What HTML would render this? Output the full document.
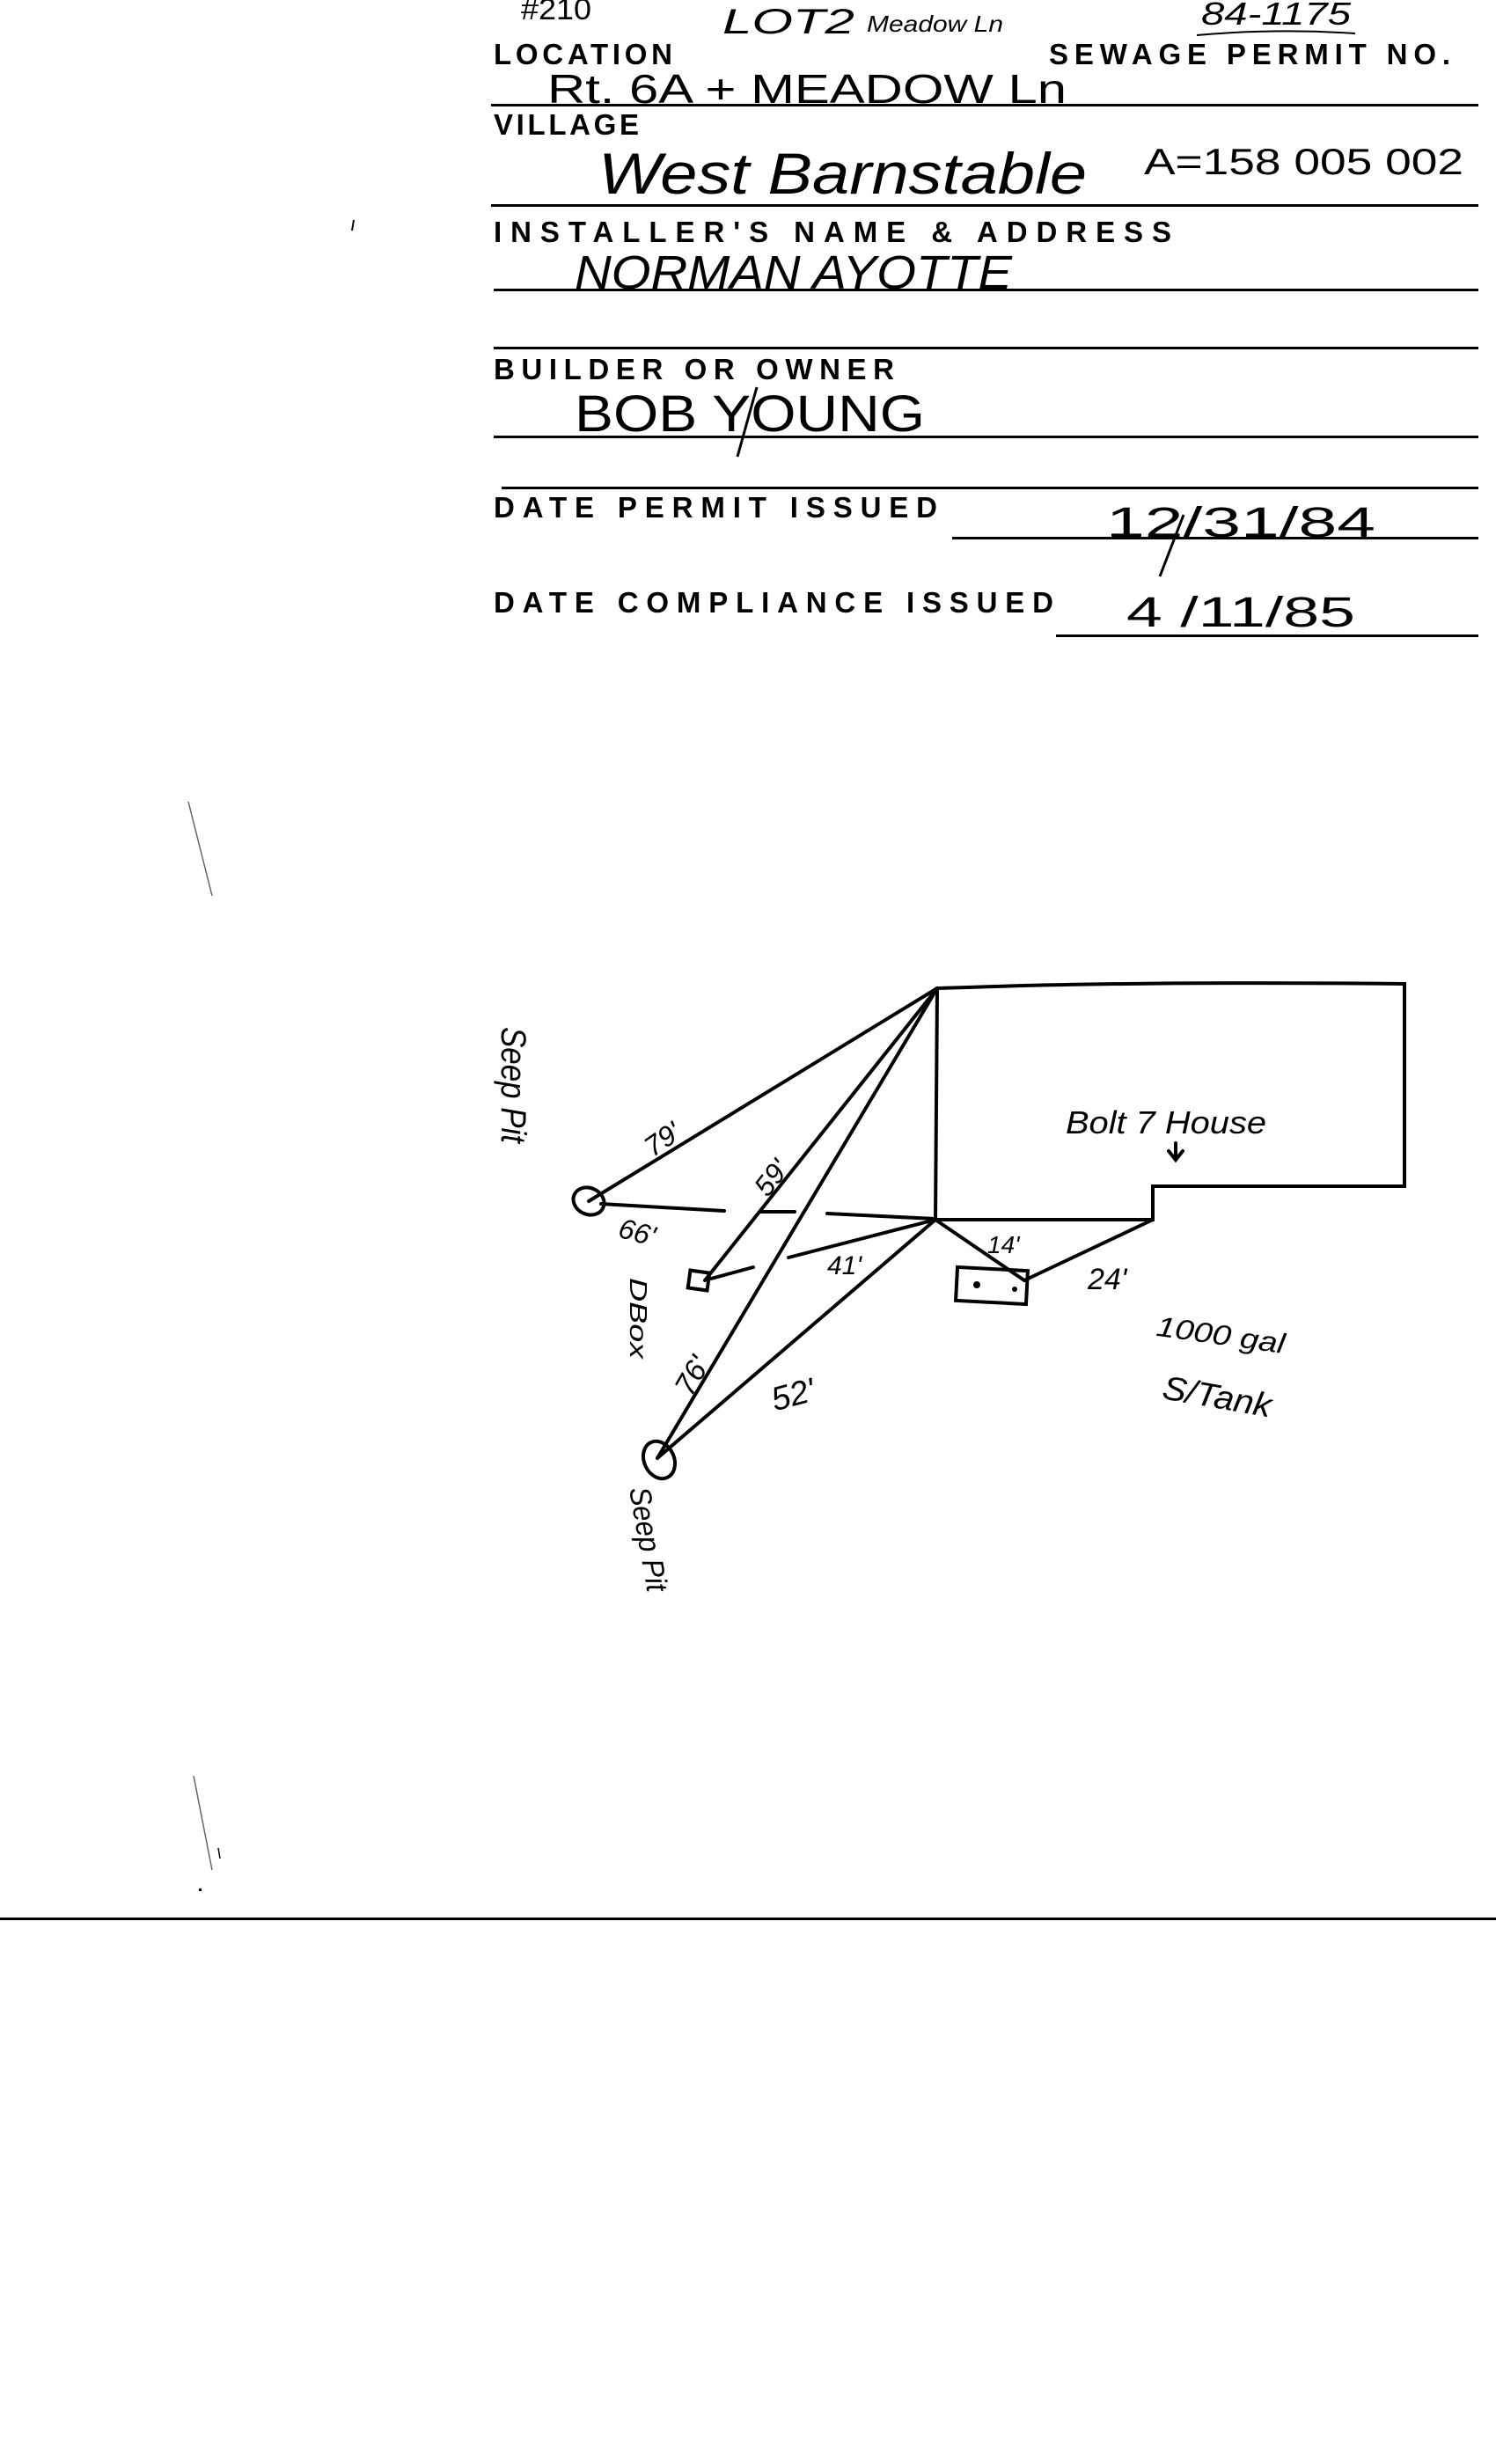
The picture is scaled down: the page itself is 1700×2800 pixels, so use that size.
<!DOCTYPE html>
<html><head><meta charset="utf-8"><style>
html,body{margin:0;padding:0;background:#fff;}
svg{display:block;}
.lb{font-family:"Liberation Sans",sans-serif;font-weight:bold;font-size:33px;fill:#000;}
.hw{font-family:"Liberation Sans",sans-serif;fill:#000;}
</style></head><body>
<svg width="1700" height="2800" viewBox="0 0 1700 2800" xmlns="http://www.w3.org/2000/svg">
<rect width="1700" height="2800" fill="#fff"/>
<text class="hw" x="592" y="22" font-size="34" textLength="80" lengthAdjust="spacingAndGlyphs">#210</text>
<text class="hw" x="821" y="38" font-size="40" font-style="italic" textLength="150" lengthAdjust="spacingAndGlyphs">LOT2</text>
<text class="hw" x="985" y="36" font-size="26" font-style="italic" textLength="155" lengthAdjust="spacingAndGlyphs">Meadow Ln</text>
<text class="hw" x="1365" y="28" font-size="36" font-style="italic" textLength="170" lengthAdjust="spacingAndGlyphs">84-1175</text>
<path d="M1360 40 Q1450 32 1540 38" stroke="#000" stroke-width="2" fill="none"/>
<text class="lb" x="561" y="73" textLength="203" lengthAdjust="spacing">LOCATION</text>
<text class="lb" x="1192" y="73" textLength="456" lengthAdjust="spacing">SEWAGE PERMIT NO.</text>
<text class="hw" x="622" y="117" font-size="46" textLength="590" lengthAdjust="spacingAndGlyphs">Rt. 6A + MEADOW Ln</text>
<rect x="558" y="118" width="1122" height="3" fill="#000"/>
<text class="lb" x="561" y="153" textLength="165" lengthAdjust="spacing">VILLAGE</text>
<text class="hw" x="680" y="220" font-size="66" font-style="italic" textLength="555" lengthAdjust="spacingAndGlyphs">West Barnstable</text>
<text class="hw" x="1300" y="198" font-size="42" textLength="363" lengthAdjust="spacingAndGlyphs">A=158 005 002</text>
<rect x="558" y="232" width="1122" height="3" fill="#000"/>
<text class="lb" x="561" y="275" textLength="770" lengthAdjust="spacing">INSTALLER'S  NAME &amp; ADDRESS</text>
<text class="hw" x="653" y="328" font-size="54" font-style="italic" textLength="497" lengthAdjust="spacingAndGlyphs">NORMAN AYOTTE</text>
<rect x="561" y="328" width="1119" height="3" fill="#000"/>
<rect x="561" y="394" width="1119" height="3" fill="#000"/>
<text class="lb" x="561" y="431" textLength="455" lengthAdjust="spacing">BUILDER  OR  OWNER</text>
<text class="hw" x="653" y="490" font-size="58" textLength="398" lengthAdjust="spacingAndGlyphs">BOB YOUNG</text>
<line x1="860" y1="440" x2="838" y2="519" stroke="#000" stroke-width="3"/>
<rect x="561" y="495" width="1119" height="3" fill="#000"/>
<rect x="570" y="553" width="1110" height="3" fill="#000"/>
<text class="lb" x="561" y="588" textLength="504" lengthAdjust="spacing">DATE  PERMIT ISSUED</text>
<text class="hw" x="1257" y="610" font-size="48" textLength="306" lengthAdjust="spacingAndGlyphs">12/31/84</text>
<line x1="1345" y1="585" x2="1318" y2="655" stroke="#000" stroke-width="3"/>
<rect x="1082" y="610" width="598" height="3" fill="#000"/>
<text class="lb" x="561" y="696" textLength="636" lengthAdjust="spacing">DATE  COMPLIANCE  ISSUED</text>
<text class="hw" x="1280" y="712" font-size="48" textLength="260" lengthAdjust="spacingAndGlyphs">4 /11/85</text>
<rect x="1200" y="721" width="480" height="3" fill="#000"/>
<line x1="402" y1="250" x2="400" y2="262" stroke="#000" stroke-width="2"/>
<line x1="214" y1="911" x2="241" y2="1018" stroke="#666" stroke-width="1.5"/>
<line x1="220" y1="2018" x2="241" y2="2125" stroke="#666" stroke-width="1.5"/>
<line x1="248" y1="2100" x2="250" y2="2112" stroke="#000" stroke-width="1.5"/>
<rect x="226" y="2146" width="3" height="3" fill="#000"/>
<g stroke="#000" stroke-width="4" fill="none" stroke-linecap="round">
<path d="M1065 1123 L1100 1122 Q1300 1115 1596 1118 L1596 1348 L1310 1348 L1310 1386 L1063 1386 L1065 1123"/>
<line x1="669" y1="1365" x2="1065" y2="1123"/>
<line x1="683" y1="1368" x2="823" y2="1376"/>
<line x1="865" y1="1377" x2="903" y2="1377"/>
<line x1="940" y1="1379" x2="1063" y2="1385"/>
<line x1="801" y1="1455" x2="1065" y2="1123"/>
<line x1="1063" y1="1386" x2="896" y2="1429"/>
<line x1="808" y1="1453" x2="856" y2="1440"/>
<line x1="747" y1="1657" x2="1065" y2="1123"/>
<line x1="747" y1="1657" x2="1063" y2="1386"/>
<line x1="1063" y1="1386" x2="1164" y2="1455"/>
<line x1="1164" y1="1455" x2="1310" y2="1386"/>
<ellipse cx="669" cy="1365" rx="18" ry="15" transform="rotate(25 669 1365)"/>
<ellipse cx="749" cy="1659" rx="17" ry="22" transform="rotate(-25 749 1659)"/>
<rect x="783" y="1445" width="22" height="20" transform="rotate(8 794 1455)"/>
<rect x="1087" y="1442" width="80" height="38" transform="rotate(3 1127 1461)"/>
<line x1="1336" y1="1299" x2="1336" y2="1318"/>
<path d="M1328 1308 L1336 1318 L1344 1308"/>
</g>
<circle cx="1110" cy="1460" r="4" fill="#000"/>
<circle cx="1153" cy="1465" r="3" fill="#000"/>
<g class="hw" font-style="italic">
<text x="732" y="1306" font-size="32" transform="rotate(-35 752 1295)">79'</text>
<text x="703" y="1410" font-size="32" transform="rotate(15 720 1400)">66'</text>
<text x="856" y="1352" font-size="32" transform="rotate(-52 874 1340)">59'</text>
<text x="940" y="1448" font-size="30">41'</text>
<text x="768" y="1582" font-size="34" transform="rotate(-60 782 1570)">76'</text>
<text x="876" y="1600" font-size="38" transform="rotate(-15 892 1585)">52'</text>
<text x="1122" y="1424" font-size="28">14'</text>
<text x="1236" y="1465" font-size="34">24'</text>
<text x="1211" y="1288" font-size="36" textLength="228" lengthAdjust="spacingAndGlyphs">Bolt 7 House</text>
<text x="1314" y="1528" font-size="32" transform="rotate(8 1388 1515)" textLength="147" lengthAdjust="spacingAndGlyphs">1000 gal</text>
<text x="1321" y="1600" font-size="38" transform="rotate(10 1384 1585)" textLength="125" lengthAdjust="spacingAndGlyphs">S/Tank</text>
<text x="0" y="0" font-size="40" transform="translate(570 1167) rotate(90)" textLength="132" lengthAdjust="spacingAndGlyphs">Seep Pit</text>
<text x="0" y="0" font-size="28" transform="translate(716 1452) rotate(90)" textLength="92" lengthAdjust="spacingAndGlyphs">DBox</text>
<text x="0" y="0" font-size="34" transform="translate(715 1692) rotate(80)" textLength="120" lengthAdjust="spacingAndGlyphs">Seep Pit</text>
</g>
<rect x="0" y="2179" width="1700" height="3" fill="#000"/>
</svg>
</body></html>
